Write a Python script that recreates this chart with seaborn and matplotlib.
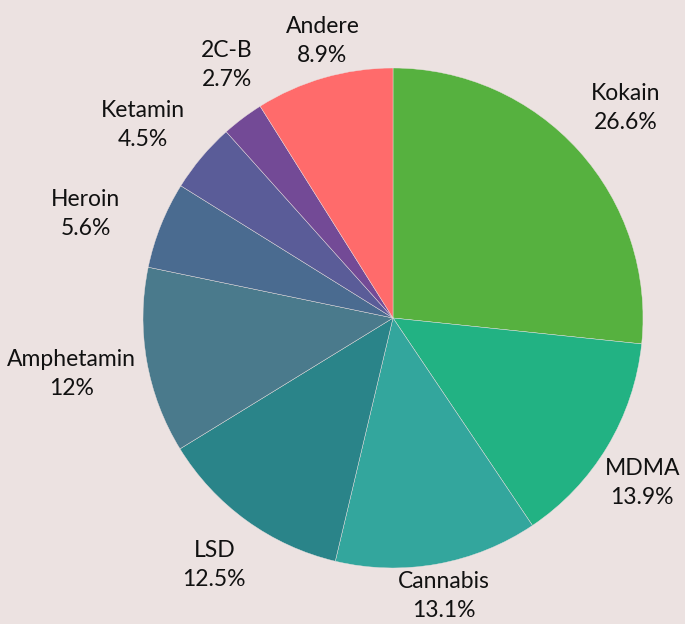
import numpy as np
import matplotlib.pyplot as plt
import seaborn as sns

# slice data (clockwise from 12 o'clock)
drugs = ["Kokain", "MDMA", "Cannabis", "LSD", "Amphetamin",
         "Heroin", "Ketamin", "2C-B", "Andere"]
shares = [26.6, 13.9, 13.1, 12.5, 12, 5.6, 4.5, 2.7, 8.9]
colors = ["#56b13f", "#22b283", "#33a69d", "#2a8489", "#4a7a8c",
          "#4a6b90", "#5a5c98", "#734a96", "#ff6b6b"]

bg = "#ece2e1"

sns.set_theme(style="white")
plt.rcParams['font.family'] = ['Lato', 'DejaVu Sans']

fig = plt.figure(figsize=(6.85, 6.24), dpi=100, facecolor=bg)
ax = fig.add_axes([0, 0, 1, 1])
ax.set_facecolor(bg)

labels = [f"{d}\n{s:g}%" for d, s in zip(drugs, shares)]
center = (393, 306)
radius = 250

wedges, texts = ax.pie(
    shares,
    labels=labels,
    colors=sns.color_palette(colors),
    startangle=90,
    counterclock=False,
    center=center,
    radius=radius,
    labeldistance=1.2,
    wedgeprops=dict(linewidth=0.3, edgecolor=bg),
    textprops=dict(fontsize=16.5, color="#111111", ha="center",
                   va="center", linespacing=1.45),
    frame=True,
)

ax.set_xlim(0, 685)
ax.set_ylim(0, 624)
ax.set_aspect("equal")
ax.axis("off")

# label angles (clockwise order -> decreasing degrees), spread small slices apart
angs = [(w.theta1 + w.theta2) / 2 for w in wedges]
angs = [a if a <= 90 else a - 360 for a in angs]  # make monotonic decreasing
min_sep = 19
for _ in range(100):
    for i in range(len(angs) - 1):
        gap = angs[i] - angs[i + 1]
        if gap < min_sep:
            push = (min_sep - gap) / 2
            angs[i] += push
            angs[i + 1] -= push

# pull labels near the top/bottom closer to the pie, push side ones out
for a, t in zip(angs, texts):
    ang = np.deg2rad(a)
    d = radius * (1.09 + 0.22 * abs(np.cos(ang)))
    t.set_position((center[0] + d * np.cos(ang), center[1] + d * np.sin(ang)))

# keep labels inside the canvas horizontally
renderer = fig.canvas.get_renderer()
for t in texts:
    bb = t.get_window_extent(renderer)
    x, y = t.get_position()
    if bb.x1 > 680:
        x -= bb.x1 - 680
    if bb.x0 < 5:
        x += 5 - bb.x0
    t.set_position((x, y))

fig.savefig("out.png", dpi=100, facecolor=bg)
